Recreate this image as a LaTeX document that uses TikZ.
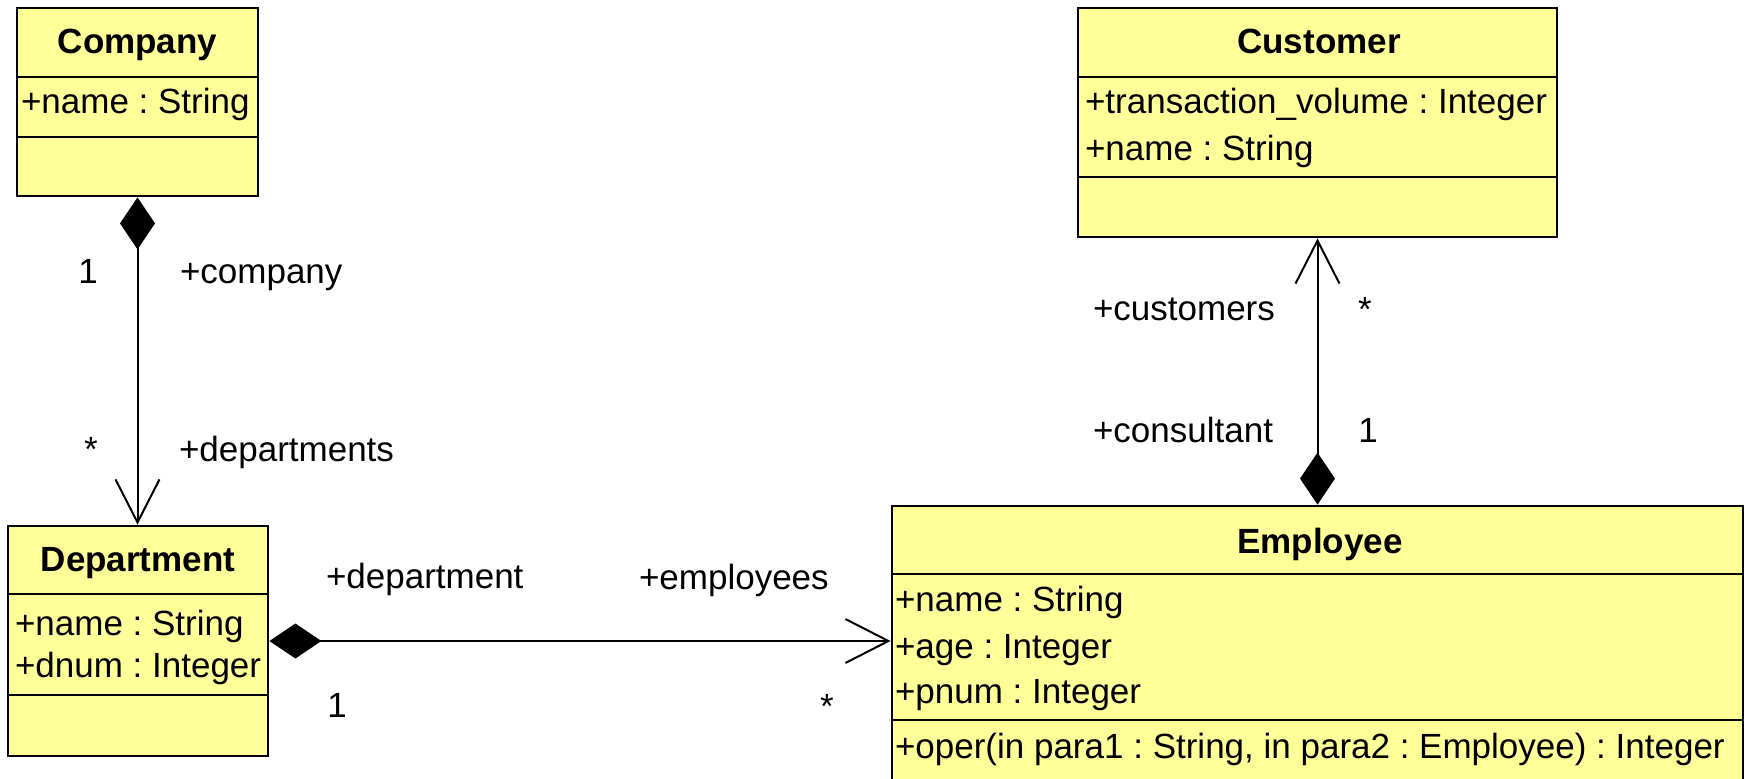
\documentclass[tikz,border=0pt]{standalone}
\usepackage{fontspec}
\setmainfont{Liberation Sans}
\usetikzlibrary{arrows.meta}
\definecolor{classfill}{RGB}{255,255,153}
\frenchspacing
\tikzset{
  compose/.tip={Diamond[length=52pt, width=35pt, line width=0pt]},
  navig/.tip={Straight Barb[length=43pt, width=44pt, line width=2pt]}
}
\begin{document}
\begin{tikzpicture}[x=1pt,y=-1pt,
  classbox/.style={draw=black, line width=2.8pt, fill=classfill, inner sep=0pt},
  divider/.style={draw=black, line width=2.6pt},
  txt/.style={inner sep=0pt, outer sep=0pt, font=\fontsize{35}{42}\selectfont\frenchspacing},
  title/.style={txt, anchor=base, font=\fontsize{35}{42}\selectfont\bfseries},
  member/.style={txt, anchor=base west},
  role/.style={txt, anchor=base west},
  mult/.style={txt, anchor=base},
  assoc/.style={draw=black, line width=2pt}
]
\useasboundingbox (0,0) rectangle (1751,779);

% class frames
\node[classbox, minimum width=241pt, minimum height=188pt] (company)    at (137.5,102) {};
\node[classbox, minimum width=260pt, minimum height=230pt] (department) at (138,641) {};
\node[classbox, minimum width=851pt, minimum height=284pt] (employee)   at (1317.5,648) {};
\node[classbox, minimum width=479pt, minimum height=229pt] (customer)   at (1317.5,122.5) {};

% compartment separators
\draw[divider] (17,77) -- (258,77);
\draw[divider] (17,137) -- (258,137);
\draw[divider] (8,594) -- (268,594);
\draw[divider] (8,695) -- (268,695);
\draw[divider] (892,574) -- (1743,574);
\draw[divider] (892,720) -- (1743,720);
\draw[divider] (1078,77) -- (1557,77);
\draw[divider] (1078,177) -- (1557,177);

% Company
\node[title]  (companyName) at (137.5,53) {Company};
\node[member] (companyA1)   at (21,113) {+name : String};

% Department
\node[title]  (departmentName) at (138,571) {Department};
\node[member] (departmentA1)   at (15,635) {+name : String};
\node[member] (departmentA2)   at (15,677) {+dnum : Integer};

% Employee
\node[title]  (employeeName) at (1320,553) {Employee};
\node[member] (employeeA1)   at (895,611) {+name : String};
\node[member] (employeeA2)   at (895,658) {+age : Integer};
\node[member] (employeeA3)   at (895,703) {+pnum : Integer};
\node[member] (employeeOp1)  at (895,758) {+oper(in para1 : String, in para2 : Employee) : Integer};

% Customer
\node[title]  (customerName) at (1319,53) {Customer};
\node[member] (customerA1)   at (1085,113) {+transaction\_volume : Integer};
\node[member] (customerA2)   at (1085,160) {+name : String};

% associations
\draw[assoc, {compose}-{navig}] (company.south) -- (company.south |- department.north);
\draw[assoc, {compose}-{navig}] (department.east) -- (department.east -| employee.west);
\draw[assoc, {compose}-{navig}] (employee.north) -- (customer.south);

% association ends: Company -- Department
\node[mult] (m1) at (88,283) {1};
\node[role] (r1) at (180,283) {+company};
\node[mult] (m2) at (91,461) {*};
\node[role] (r2) at (179,461) {+departments};

% association ends: Department -- Employee
\node[role] (r3) at (326,588) {+department};
\node[role] (r4) at (639,589) {+employees};
\node[mult] (m3) at (337,717) {1};
\node[mult] (m4) at (827,718) {*};

% association ends: Employee -- Customer
\node[role] (r5) at (1093,320) {+customers};
\node[mult] (m5) at (1365,321) {*};
\node[role] (r6) at (1093,442) {+consultant};
\node[mult] (m6) at (1368,442) {1};
\end{tikzpicture}
\end{document}
